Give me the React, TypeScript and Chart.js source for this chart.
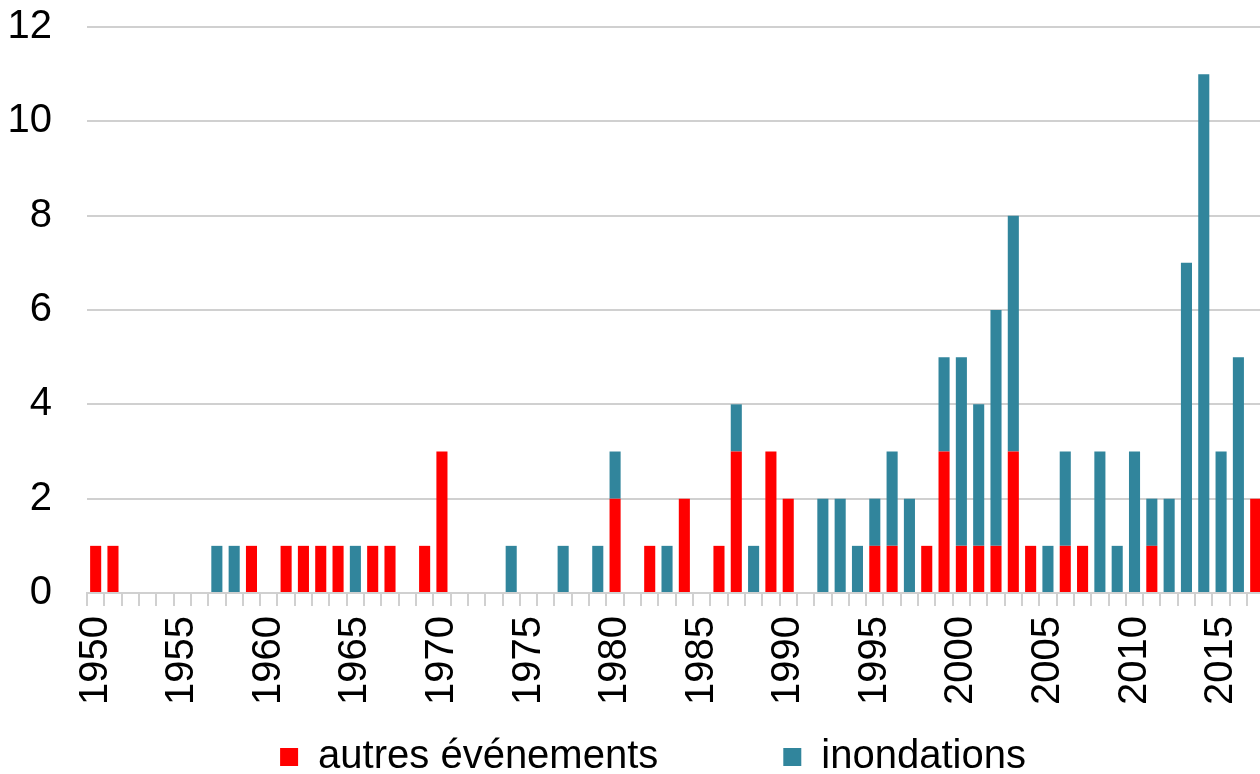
import React, { useEffect, useRef } from "react";
import { Chart, registerables } from "chart.js";

Chart.register(...registerables);

// Years on the axis (the original chart continues past the right edge of the picture)
const years: string[] = [];
for (let y = 1950; y <= 2019; y++) years.push(String(y));

// 1950 .. 2017
const autresEvenements = [
  1, 1, 0, 0, 0, 0, 0, 0, 0, 1, // 1950-1959
  0, 1, 1, 1, 1, 0, 1, 1, 0, 1, // 1960-1969
  3, 0, 0, 0, 0, 0, 0, 0, 0, 0, // 1970-1979
  2, 0, 1, 0, 2, 0, 1, 3, 0, 3, // 1980-1989
  2, 0, 0, 0, 0, 1, 1, 0, 1, 3, // 1990-1999
  1, 1, 1, 3, 1, 0, 1, 1, 0, 0, // 2000-2009
  0, 1, 0, 0, 0, 0, 0, 2,       // 2010-2017
];

const inondations = [
  0, 0, 0, 0, 0, 0, 0, 1, 1, 0, // 1950-1959
  0, 0, 0, 0, 0, 1, 0, 0, 0, 0, // 1960-1969
  0, 0, 0, 0, 1, 0, 0, 1, 0, 1, // 1970-1979
  1, 0, 0, 1, 0, 0, 0, 1, 1, 0, // 1980-1989
  0, 0, 2, 2, 1, 1, 2, 2, 0, 2, // 1990-1999
  4, 3, 5, 5, 0, 1, 2, 0, 3, 1, // 2000-2009
  3, 1, 2, 7, 11, 3, 5, 0,      // 2010-2017
];

const yTicks = [0, 2, 4, 6, 8, 10, 12];

const FONT = "'Liberation Sans', Arial, sans-serif";
const LEGEND_PAD = 125;
const LEGEND_TEXT_CENTER = 757;

// Keep the legend's wide horizontal spacing without pushing the items downwards
const legendPlacement = {
  id: "legendPlacement",
  beforeLayout(chart: any) {
    const lg = chart.legend;
    if (!lg || lg.__patched) return;
    lg.__patched = true;
    const origDraw = lg.draw.bind(lg);
    lg.draw = function () {
      const t = this.top;
      this.top = LEGEND_TEXT_CENTER - 20 - LEGEND_PAD;
      origDraw();
      this.top = t;
    };
  },
};

export default function App() {
  const ref = useRef<HTMLCanvasElement | null>(null);

  useEffect(() => {
    if (!ref.current) return;
    const chart = new Chart(ref.current, {
      type: "bar",
      data: {
        labels: years,
        datasets: [
          {
            label: "autres événements",
            data: autresEvenements,
            backgroundColor: "#FF0000",
            borderWidth: 0,
            stack: "s",
          },
          {
            label: "inondations",
            data: inondations,
            backgroundColor: "#31859C",
            borderWidth: 0,
            stack: "s",
          },
        ],
      },
      plugins: [legendPlacement],
      options: {
        responsive: false,
        animation: false,
        devicePixelRatio: 1,
        layout: { padding: { left: 7, right: 6, top: 0, bottom: 0 } },
        datasets: {
          bar: { categoryPercentage: 1, barPercentage: 0.64 },
        },
        scales: {
          x: {
            stacked: true,
            afterFit: (axis: any) => {
              axis.paddingLeft = 0;
              axis.paddingRight = 0;
            },
            grid: {
              offset: true,
              drawOnChartArea: false,
              drawTicks: true,
              tickLength: 13,
              color: "#D0D0D0",
              lineWidth: 2,
            },
            border: { display: true, color: "#D0D0D0", width: 2 },
            ticks: {
              autoSkip: false,
              minRotation: 90,
              maxRotation: 90,
              padding: 10,
              color: "#000",
              font: { family: FONT, size: 40 },
              callback: (_v: any, i: number) => {
                const y = Number(years[i]);
                return y % 5 === 0 ? String(y) : "";
              },
            },
          },
          y: {
            stacked: true,
            min: yTicks[0],
            max: yTicks[yTicks.length - 1],
            afterBuildTicks: (axis: any) => {
              axis.ticks = yTicks.map((v) => ({ value: v }));
            },
            afterFit: (axis: any) => {
              axis.paddingTop = 27;
              axis.paddingBottom = 0;
              axis.width = 80;
            },
            grid: {
              drawTicks: false,
              color: "#D0D0D0",
              lineWidth: 2,
            },
            border: { display: false },
            ticks: {
              padding: 35,
              color: "#000",
              font: { family: FONT, size: 40 },
            },
          },
        },
        plugins: {
          legend: {
            position: "bottom",
            maxHeight: 59,
            labels: {
              boxWidth: 18,
              boxHeight: 18,
              padding: LEGEND_PAD,
              color: "#000",
              font: { family: FONT, size: 40 },
            },
          },
          tooltip: { enabled: false },
        },
      },
    });
    return () => chart.destroy();
  }, []);

  return (
    <div
      style={{
        position: "absolute",
        left: 0,
        top: 0,
        width: 1260,
        height: 774,
        overflow: "hidden",
        background: "#fff",
      }}
    >
      <canvas ref={ref} width={1305} height={774} />
    </div>
  );
}
